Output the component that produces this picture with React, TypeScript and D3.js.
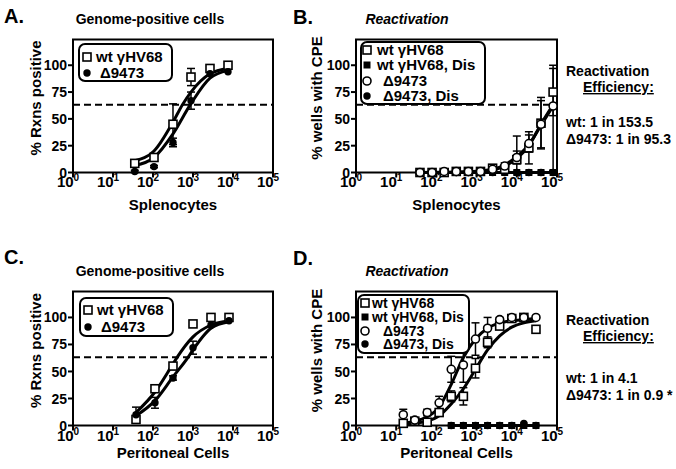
import React from 'react';
import * as d3 from 'd3';

const FONT = '"Liberation Sans", Arial, sans-serif';

// ---- Panel A: genome-positive splenocytes
const aCells = [35, 106, 316, 891, 2660, 7500];
const aWt = [8.5, 14, 45, 89, 97, 100];
const aWtErr = [3, 3, 19, 8, 0, 0];
const aMut = [1, 5.5, 28, 67, 92, 94];
const aMutErr = [1, 1, 4, 8, 0, 0];
const aWtFitX = [35, 106, 316, 540, 891, 2660, 7500];
const aWtFitY = [11, 20, 47, 63, 75, 92, 97];
const aMutFitX = [35, 106, 316, 850, 2660, 7500];
const aMutFitY = [6.5, 14, 36, 63, 88, 95];

// ---- Panel B: reactivation, splenocytes
const bCells = [39, 78, 156, 312, 625, 1250, 2500, 5000, 10000, 20000, 40000, 80000];
const bWt = [0, 0, 0, 1, 1, 1, 4, 3, 12, 23, 46, 75];
const bWtErr = [0, 0, 0, 0, 0, 0, 1, 2, 22, 15, 24, 22];
const bMut = [0, 0, 1, 1, 1, 1, 3, 6, 14, 27, 45, 62];
const bMutErr = [0, 0, 0, 0, 0, 0, 1, 3, 6, 8, 22, 60];
const bWtDis = [0, 0, 0, 0, 0, 0, 0, 0, 0, 0, 0, 0];
const bMutDis = [0, 0, 0, 0, 0, 0, 0, 0, 0, 0, 0, 0];
const bFitX = [39, 312, 625, 1250, 2500, 5000, 10000, 20000, 40000, 80000];
const bWtFitY = [0, 0.3, 0.6, 1.2, 2.5, 6, 13, 25, 45, 63];
const bMutFitY = [0, 0.3, 0.7, 1.4, 3, 7, 15, 26, 44, 62];

// ---- Panel C: genome-positive peritoneal cells
const cCells = [37.6, 112, 316, 1000, 2818, 7943];
const cWt = [5.6, 34, 55, 94, 100, 100];
const cWtErr = [2, 3, 3, 0, 0, 0];
const cMut = [10, 21, 44, 72, 93, 97];
const cMutErr = [7, 5, 2, 6, 0, 0];
const cWtFitX = [37.6, 112, 316, 400, 1000, 2818, 7943];
const cWtFitY = [12, 31, 57, 63, 82, 93, 97];
const cMutFitX = [37.6, 112, 316, 750, 1000, 2818, 7943];
const cMutFitY = [9, 23, 45, 63, 70, 90, 96];

// ---- Panel D: reactivation, peritoneal cells
const dCells = [15, 29, 59, 117, 234, 469, 938, 1875, 3750, 7500, 15000, 30000];
const dWt = [2, 4, 3, 12, 27, 27, 53, 77, 92, 99, 100, 89];
const dWtErr = [0, 0, 0, 3, 5, 8, 9, 5, 0, 0, 0, 0];
const dMut = [10, 5, 12, 21, 52, 56, 80, 90, 98, 100, 100, 100];
const dMutErr = [5, 0, 3, 6, 12, 16, 15, 11, 3, 0, 0, 0];
const dDisCells = [234, 469, 938, 1875, 3750, 7500, 15000, 30000];
const dWtDis = [0, 0, 0, 0, 0, 0, 0, 0];
const dMutDis = [0, 0, 0, 0, 0, 0, 2, 0];
const dFitX = [15, 29, 59, 117, 234, 469, 938, 1875, 3750, 7500, 15000, 30000];
const dWtFitY = [1, 2, 4, 9, 20, 34, 52, 70, 83, 91, 95, 97];
const dMutFitY = [2, 4, 8, 17, 38, 63, 80, 90, 95, 97, 98, 99];

const yTicks = [0, 25, 50, 75, 100];
const xExponents = [0, 1, 2, 3, 4, 5];
const poissonLine = 63.2;

type Marker = 'openSquare' | 'filledSquare' | 'openCircle' | 'filledCircle';
interface Series { x: number[]; y: number[]; err?: number[]; marker: Marker }
interface Fit { x: number[]; y: number[] }
interface LegendDef { x: number; y: number; w: number; h: number; rows: number[]; mx: number; fs: number; items: { label: string; marker: Marker; tx: number }[] }
interface SideText { x: number; lines: { t: string; y: number; dx?: number; u?: boolean }[] }

interface PanelProps {
  left: number; top: number; bottom: number; width: number;
  letter: string; letterX: number; letterY: number;
  title: string; italic?: boolean; titleX: number; titleY: number; titleSize: number;
  yLabel: string; yLabelX: number;
  xLabel: string; xLabelY: number; tickBase: number;
  series: Series[]; fits: Fit[]; legend: LegendDef; side?: SideText;
}

const MarkerShape = ({ m, x, y }: { m: Marker; x: number; y: number }) => {
  if (m === 'openSquare') return <rect x={x - 4} y={y - 4} width={8} height={8} fill="#fff" stroke="#000" strokeWidth={1.6} />;
  if (m === 'filledSquare') return <rect x={x - 3.5} y={y - 3.5} width={7} height={7} fill="#000" />;
  if (m === 'openCircle') return <circle cx={x} cy={y} r={4} fill="#fff" stroke="#000" strokeWidth={1.6} />;
  return <circle cx={x} cy={y} r={3.7} fill="#000" />;
};

const Panel = (p: PanelProps) => {
  const x = d3.scaleLog().domain([1, 1e5]).range([p.left, p.left + p.width]);
  const y = d3.scaleLinear().domain([0, 124]).range([p.bottom, p.top]);
  const line = d3.line<[number, number]>().x(d => x(d[0])).y(d => y(d[1])).curve(d3.curveMonotoneX);
  const right = p.left + p.width;
  const midY = (p.top + p.bottom) / 2 - 8;
  return (
    <g>
      <text x={p.letterX} y={p.letterY} fontSize={20} fontWeight="bold">{p.letter}</text>
      <text x={p.titleX} y={p.titleY} fontSize={p.titleSize} fontWeight="bold" fontStyle={p.italic ? 'italic' : 'normal'} textAnchor="middle">{p.title}</text>
      <text transform={`translate(${p.yLabelX},${midY}) rotate(-90)`} fontSize={15} fontWeight="bold" textAnchor="middle">{p.yLabel}</text>
      <text x={p.left + p.width / 2} y={p.xLabelY} fontSize={15} fontWeight="bold" textAnchor="middle">{p.xLabel}</text>

      {/* frame and axes */}
      <rect x={p.left} y={p.top} width={p.width} height={p.bottom - p.top} fill="none" stroke="#000" strokeWidth={2} />
      {yTicks.map(t => (
        <g key={t}>
          <line x1={p.left - 5} x2={p.left} y1={y(t)} y2={y(t)} stroke="#000" strokeWidth={2} />
          <text x={p.left - 6} y={y(t)} dy="0.36em" fontSize={14} fontWeight="bold" textAnchor="end">{t}</text>
        </g>
      ))}
      {xExponents.map(e => (
        <g key={e}>
          <line x1={x(10 ** e)} x2={x(10 ** e)} y1={p.bottom} y2={p.bottom + 5} stroke="#000" strokeWidth={2} />
          <text x={x(10 ** e) - 5} y={p.tickBase} fontSize={15} fontWeight="bold" textAnchor="middle">10<tspan dy={-6} fontSize={10}>{e}</tspan></text>
        </g>
      ))}

      <line x1={p.left} x2={right} y1={y(poissonLine)} y2={y(poissonLine)} stroke="#000" strokeWidth={2} strokeDasharray="7,4" />

      {p.fits.map((f, i) => (
        <path key={i} d={line(f.x.map((v, j) => [v, f.y[j]] as [number, number])) || ''} fill="none" stroke="#000" strokeWidth={3} />
      ))}

      {p.series.map((s, i) => (
        <g key={i}>
          {s.err && s.x.map((v, j) => {
            const e = s.err![j];
            if (!e) return null;
            const hi = y(Math.min(100, s.y[j] + e));
            const lo = y(Math.max(0, s.y[j] - e));
            const cx = x(v);
            return (
              <g key={j} stroke="#000" strokeWidth={1.5}>
                <line x1={cx} x2={cx} y1={hi} y2={lo} />
                <line x1={cx - 4} x2={cx + 4} y1={hi} y2={hi} />
                <line x1={cx - 4} x2={cx + 4} y1={lo} y2={lo} />
              </g>
            );
          })}
        </g>
      ))}
      {p.series.map((s, i) => (
        <g key={i}>
          {s.x.map((v, j) => <MarkerShape key={j} m={s.marker} x={x(v)} y={y(s.y[j])} />)}
        </g>
      ))}

      {/* legend */}
      <rect x={p.legend.x} y={p.legend.y} width={p.legend.w} height={p.legend.h} rx={6} fill="#fff" stroke="#000" strokeWidth={2} />
      {p.legend.items.map((it, i) => (
        <g key={i}>
          <MarkerShape m={it.marker} x={p.legend.mx} y={p.legend.rows[i]} />
          <text x={it.tx} y={p.legend.rows[i] + 5} fontSize={p.legend.fs} fontWeight="bold">{it.label}</text>
        </g>
      ))}

      {p.side && p.side.lines.map((l, i) => (
        <text key={i} x={p.side!.x + (l.dx || 0)} y={l.y} fontSize={14} fontWeight="bold" textDecoration={l.u ? 'underline' : undefined}>{l.t}</text>
      ))}
    </g>
  );
};

const App = () => {
  const topRow = { top: 39.5, bottom: 172.5 };
  const botRow = { top: 291.5, bottom: 425.5 };
  return (
    <svg width={676} height={469} style={{ position: 'absolute', left: 0, top: 0, background: '#fff' }} fontFamily={FONT}>
      <Panel
        left={73} width={200} {...topRow}
        letter="A." letterX={4} letterY={23}
        title="Genome-positive cells" titleX={150} titleY={24} titleSize={14}
        yLabel="% Rxns positive" yLabelX={41}
        xLabel="Splenocytes" xLabelY={210} tickBase={187}
        fits={[{ x: aWtFitX, y: aWtFitY }, { x: aMutFitX, y: aMutFitY }]}
        series={[
          { x: aCells, y: aWt, err: aWtErr, marker: 'openSquare' },
          { x: aCells, y: aMut, err: aMutErr, marker: 'filledCircle' },
        ]}
        legend={{ x: 79, y: 44, w: 93, h: 37, rows: [57, 73], mx: 87, fs: 15, items: [
          { label: 'wt γHV68', marker: 'openSquare', tx: 96 },
          { label: 'Δ9473', marker: 'filledCircle', tx: 100 },
        ] }}
      />
      <Panel
        left={356} width={201} {...topRow}
        letter="B." letterX={293} letterY={24}
        title="Reactivation" italic titleX={407} titleY={24} titleSize={14}
        yLabel="% wells with CPE" yLabelX={322}
        xLabel="Splenocytes" xLabelY={210} tickBase={187}
        fits={[
          { x: bFitX, y: bWtFitY }, { x: bFitX, y: bMutFitY },
          { x: [bCells[0], bCells[bCells.length - 1]], y: [0, 0] },
        ]}
        series={[
          { x: bCells, y: bWtDis, marker: 'filledSquare' },
          { x: bCells, y: bMutDis, marker: 'filledCircle' },
          { x: bCells, y: bWt, err: bWtErr, marker: 'openSquare' },
          { x: bCells, y: bMut, err: bMutErr, marker: 'openCircle' },
        ]}
        legend={{ x: 361, y: 42, w: 124, h: 62, rows: [50, 65, 81, 96], mx: 367, fs: 15, items: [
          { label: 'wt γHV68', marker: 'openSquare', tx: 377 },
          { label: 'wt γHV68, Dis', marker: 'filledSquare', tx: 377 },
          { label: 'Δ9473', marker: 'openCircle', tx: 383 },
          { label: 'Δ9473, Dis', marker: 'filledCircle', tx: 383 },
        ] }}
        side={{ x: 566, lines: [
          { t: 'Reactivation', y: 76 },
          { t: 'Efficiency:', y: 92, dx: 17, u: true },
          { t: 'wt: 1 in 153.5', y: 127 },
          { t: 'Δ9473: 1 in 95.3', y: 144 },
        ] }}
      />
      <Panel
        left={73} width={200} {...botRow}
        letter="C." letterX={4} letterY={264}
        title="Genome-positive cells" titleX={150} titleY={276} titleSize={14}
        yLabel="% Rxns positive" yLabelX={41}
        xLabel="Peritoneal Cells" xLabelY={458} tickBase={441}
        fits={[{ x: cWtFitX, y: cWtFitY }, { x: cMutFitX, y: cMutFitY }]}
        series={[
          { x: cCells, y: cWt, err: cWtErr, marker: 'openSquare' },
          { x: cCells, y: cMut, err: cMutErr, marker: 'filledCircle' },
        ]}
        legend={{ x: 80, y: 298, w: 93, h: 38, rows: [310, 327], mx: 88, fs: 15, items: [
          { label: 'wt γHV68', marker: 'openSquare', tx: 97 },
          { label: 'Δ9473', marker: 'filledCircle', tx: 101 },
        ] }}
      />
      <Panel
        left={356} width={201} {...botRow}
        letter="D." letterX={293} letterY={265}
        title="Reactivation" italic titleX={407} titleY={276} titleSize={14}
        yLabel="% wells with CPE" yLabelX={322}
        xLabel="Peritoneal Cells" xLabelY={458} tickBase={441}
        fits={[
          { x: dFitX, y: dWtFitY }, { x: dFitX, y: dMutFitY },
          { x: [dDisCells[0], dDisCells[dDisCells.length - 1]], y: [0, 0] },
        ]}
        series={[
          { x: dDisCells, y: dWtDis, marker: 'filledSquare' },
          { x: dDisCells, y: dMutDis, marker: 'filledCircle' },
          { x: dCells, y: dWt, err: dWtErr, marker: 'openSquare' },
          { x: dCells, y: dMut, err: dMutErr, marker: 'openCircle' },
        ]}
        legend={{ x: 358, y: 295, w: 111, h: 58, rows: [303, 317, 331, 344], mx: 365, fs: 14, items: [
          { label: 'wt γHV68', marker: 'openSquare', tx: 372 },
          { label: 'wt γHV68, Dis', marker: 'filledSquare', tx: 372 },
          { label: 'Δ9473', marker: 'openCircle', tx: 383 },
          { label: 'Δ9473, Dis', marker: 'filledCircle', tx: 383 },
        ] }}
        side={{ x: 566, lines: [
          { t: 'Reactivation', y: 325 },
          { t: 'Efficiency:', y: 341, dx: 17, u: true },
          { t: 'wt: 1 in 4.1', y: 383 },
          { t: 'Δ9473: 1 in 0.9 *', y: 400 },
        ] }}
      />
    </svg>
  );
};

export default App;
